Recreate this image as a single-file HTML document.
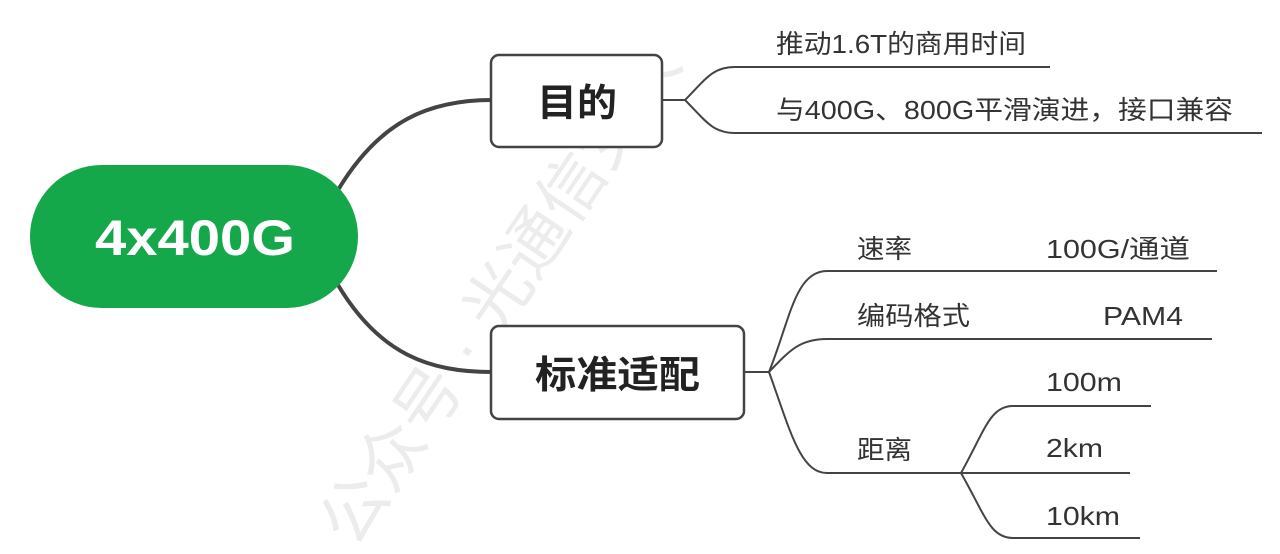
<!DOCTYPE html>
<html><head><meta charset="utf-8"><style>
html,body{margin:0;padding:0;background:#fff;width:1280px;height:554px;overflow:hidden}
svg{display:block}
text{font-family:"Liberation Sans","Noto Sans CJK SC",sans-serif}
</style></head><body>
<svg width="1280" height="554" viewBox="0 0 1280 554" xmlns="http://www.w3.org/2000/svg">
<g fill="#ececec" font-size="66" font-family="'Noto Serif CJK SC',serif">
<text transform="translate(355,550) rotate(-56)">公众号 · 光通信女人</text>
</g>
<g fill="none" stroke="#444" stroke-width="4">
<path d="M338,190 C380,120 430,100 492,100"/>
<path d="M338,285 C380,355 430,372 492,372"/>
</g>
<g fill="none" stroke="#444" stroke-width="2">
<path d="M662,100 H685 C705,80 712,67 735,67 H1050"/>
<path d="M685,100 C705,120 712,133 735,133 H1262"/>
<path d="M744,372 H769 C790,320 795,271 827,271 H1217"/>
<path d="M769,372 C790,350 800,339 827,339 H1212"/>
<path d="M769,372 C790,430 800,473 827,473 H1130"/>
<path d="M961,473 C985,430 990,406 1013,406 H1151"/>
<path d="M961,473 C985,515 990,538 1013,538 H1140"/>
</g>
<rect x="30" y="165" width="328" height="143" rx="71.5" fill="#15a84a"/>
<text x="95" y="255" textLength="200" lengthAdjust="spacingAndGlyphs" fill="#fff" font-size="50" font-weight="bold">4x400G</text>
<rect x="491" y="55" width="171" height="92" rx="8" fill="#fff" stroke="#444" stroke-width="2.5"/>
<text x="537" y="116" textLength="80" lengthAdjust="spacingAndGlyphs" fill="#222" font-size="38" font-weight="bold">目的</text>
<rect x="491" y="326" width="253" height="93" rx="8" fill="#fff" stroke="#444" stroke-width="2.5"/>
<text x="535" y="388" textLength="165" lengthAdjust="spacingAndGlyphs" fill="#222" font-size="38" font-weight="bold">标准适配</text>
<g fill="#333" font-size="26">
<text x="776" y="53" textLength="250" lengthAdjust="spacingAndGlyphs">推动1.6T的商用时间</text>
<text x="776" y="119" textLength="457" lengthAdjust="spacingAndGlyphs">与400G、800G平滑演进，接口兼容</text>
<text x="857" y="258" textLength="55" lengthAdjust="spacingAndGlyphs">速率</text>
<text x="1046" y="258" textLength="144" lengthAdjust="spacingAndGlyphs">100G/通道</text>
<text x="857" y="325" textLength="113" lengthAdjust="spacingAndGlyphs">编码格式</text>
<text x="1103" y="325" textLength="80" lengthAdjust="spacingAndGlyphs">PAM4</text>
<text x="857" y="459" textLength="55" lengthAdjust="spacingAndGlyphs">距离</text>
<text x="1046" y="391" textLength="76" lengthAdjust="spacingAndGlyphs">100m</text>
<text x="1046" y="457" textLength="57" lengthAdjust="spacingAndGlyphs">2km</text>
<text x="1046" y="525" textLength="74" lengthAdjust="spacingAndGlyphs">10km</text>
</g>
</svg>
</body></html>
